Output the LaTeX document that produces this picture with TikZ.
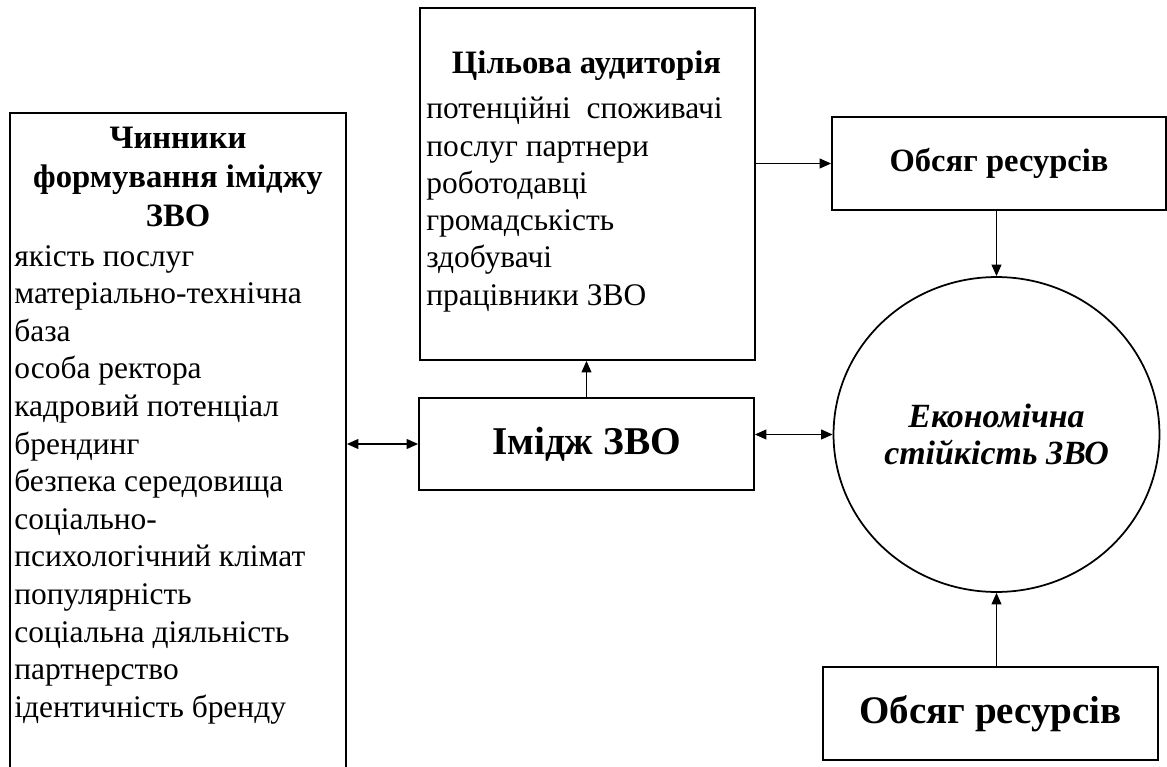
\documentclass[tikz,border=0pt]{standalone}
\usepackage{fontspec}
\setmainfont{Liberation Serif}
\usetikzlibrary{
  arrows.meta,
  shapes.geometric,
  positioning,
  calc
}

\begin{document}
\begin{tikzpicture}[x=0.02cm, y=-0.02cm,
  box/.style={draw, line width=1pt, rectangle, inner sep=0pt},
  bodyfont/.style={font=\fontsize{17.9}{21.4}\selectfont},
  headfont/.style={font=\fontsize{18.6}{22}\selectfont\bfseries},
  onearrow/.style={line width=1pt, -{Triangle[length=6.5pt, width=5.5pt]}},
  twoarrow/.style={line width=1pt, {Triangle[length=6.5pt, width=5.5pt]}-{Triangle[length=6.5pt, width=5.5pt]}}]
  \useasboundingbox (0,0) rectangle (1167,767);

  % boxes
  \node[box, minimum width=6.72cm, minimum height=13.74cm] (factors) at (178, 456.5) {};
  \node[box, minimum width=6.7cm, minimum height=7.04cm] (target) at (587.5, 184) {};
  \node[box, font=\fontsize{22.4}{27}\selectfont\bfseries, minimum width=6.7cm, minimum height=1.84cm] (image) at (586.5, 444) {Імідж ЗВО};
  \node[box, font=\fontsize{18.5}{22}\selectfont\bfseries, minimum width=6.68cm, minimum height=1.86cm] (topres) at (999, 163.5) {Обсяг ресурсів};
  \node[box, font=\fontsize{22.2}{27}\selectfont\bfseries, minimum width=6.7cm, minimum height=1.86cm] (botres) at (990.5, 713.5) {Обсяг ресурсів};
  \node[draw, line width=1pt, ellipse, inner sep=0pt, minimum width=6.52cm, minimum height=6.3cm,
    align=center, font=\fontsize{19.3}{21.1}\selectfont\bfseries\itshape] (econ) at (996.5, 434.5)
    {Економічна\\стійкість ЗВО};

  % texts in the big boxes
  \node[headfont, align=center, anchor=north, inner sep=0pt] (factorshead) at (178, 127)
    {Чинники\\формування іміджу\\ЗВО};
  \node[bodyfont, align=left, anchor=north west, inner sep=0pt] (factorslist) at (14, 245)
    {якість послуг\\матеріально-технічна\\база\\особа ректора\\кадровий потенціал\\брендинг\\
     безпека середовища\\соціально-\\психологічний клімат\\популярність\\соціальна діяльність\\
     партнерство\\ідентичність бренду};
  \node[headfont, anchor=north, inner sep=0pt] (targethead) at (586.5, 50) {Цільова аудиторія};
  \node[font=\fontsize{17.9}{21.2}\selectfont, align=left, anchor=north west, inner sep=0pt] (targetlist) at (426, 97)
    {потенційні\ \ споживачі\\послуг партнери\\роботодавці\\громадськість\\здобувачі\\працівники ЗВО};

  % links
  \draw[twoarrow] (image.west -| factors.east) -- (image.west);
  \draw[twoarrow] (econ.west -| image.east) -- (econ.west);
  \draw[onearrow] (image.north) -- (image.north |- target.south);
  \draw[onearrow] (target.east |- topres.west) -- (topres.west);
  \draw[onearrow] (topres.south -| econ.north) -- (econ.north);
  \draw[onearrow] (botres.north -| econ.south) -- (econ.south);
\end{tikzpicture}
\end{document}
